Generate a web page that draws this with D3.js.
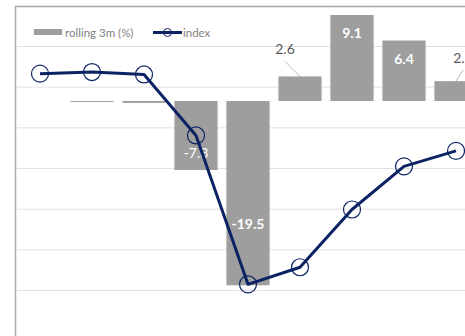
<!DOCTYPE html>
<html>
<head>
<meta charset="utf-8">
<script src="https://cdn.jsdelivr.net/npm/d3@7/dist/d3.min.js"></script>
<style>
  html, body { margin: 0; padding: 0; background: #fff; }
  svg { display: block; font-family: Lato, "Open Sans", sans-serif; }
</style>
</head>
<body>
<svg id="chart" width="465" height="336"></svg>
<script>
// Monthly periods
const categories = ["Dec", "Jan", "Feb", "Mar", "Apr", "May", "Jun", "Jul", "Aug"];
// Rolling 3-month change (%), secondary axis
const rolling3m = [null, -0.1, -0.2, -7.3, -19.5, 2.6, 9.1, 6.4, 2.1];
// Index level, primary axis
const indexValues = [106.6, 106.8, 106.5, 99.0, 80.7, 82.8, 89.9, 95.2, 97.1];
// Primary axis gridline values
const indexTicks = [80, 85, 90, 95, 100, 105, 110];

const W = 465, H = 336;
const svg = d3.select("#chart");

const barColor = "#9e9e9e";
const lineColor = "#0b2363";

const x = d3.scaleBand().domain(categories).range([14, 482]).paddingInner(0.17).paddingOuter(0.085);
const cx = d => x(d) + x.bandwidth() / 2;
const yIdx = d3.scaleLinear().domain([80, 110]).range([290, 46]);
const yBar = d3.scaleLinear().domain([-20, 10]).range([290, 6.5]);

// chart frame (left and top edges)
svg.append("path")
  .attr("d", `M15.5,${H} V6.5 H${W}`)
  .attr("fill", "none").attr("stroke", "#a9a9a9").attr("stroke-width", 1.5);

// horizontal gridlines from the primary axis
const grid = d3.axisLeft(yIdx).tickValues(indexTicks).tickSize(-(W - 16)).tickFormat("");
svg.append("g").attr("transform", "translate(16,0)").call(grid)
  .call(g => g.select(".domain").remove())
  .call(g => g.selectAll("line").attr("stroke", "#e1e1e1").attr("stroke-width", 1));

// bars
const barData = categories.map((c, i) => ({ c, v: rolling3m[i] })).filter(d => d.v !== null);
svg.append("g").selectAll("rect").data(barData).join("rect")
  .attr("x", d => x(d.c))
  .attr("width", x.bandwidth())
  .attr("y", d => yBar(Math.max(0, d.v)))
  .attr("height", d => Math.abs(yBar(d.v) - yBar(0)))
  .attr("fill", barColor);

// data labels: placement per bar
const labelStyle = {
  "Mar": { mode: "insideEnd", bold: false },
  "Apr": { mode: "raised", bold: true },
  "May": { mode: "leader", bold: false, dx: -15, dy: -22 },
  "Jun": { mode: "insideEnd", bold: true },
  "Jul": { mode: "insideEnd", bold: true },
  "Aug": { mode: "leader", bold: false, dx: 7, dy: -18 }
};
const labels = svg.append("g").attr("font-size", 14);
barData.forEach(d => {
  const s = labelStyle[d.c];
  if (!s) return;
  const bx = cx(d.c);
  const end = yBar(d.v);
  const txt = d.v.toFixed(1);
  if (s.mode === "leader") {
    const lx = bx + s.dx, ly = end + s.dy;
    labels.append("line")
      .attr("x1", bx).attr("y1", end)
      .attr("x2", lx).attr("y2", ly + 7)
      .attr("stroke", "#a6a6a6").attr("stroke-width", 0.8);
    labels.append("text").attr("x", lx).attr("y", ly)
      .attr("text-anchor", "middle").attr("fill", "#595959").text(txt);
  } else {
    let by;
    if (s.mode === "raised") by = yBar(d.v) - 56;
    else by = d.v >= 0 ? end + 23 : end - 12;
    labels.append("text").attr("x", bx).attr("y", by)
      .attr("text-anchor", "middle").attr("fill", "#fff")
      .attr("font-weight", s.bold ? "bold" : "normal").text(txt);
  }
});

// index line with hollow markers
const line = d3.line().x((d, i) => cx(categories[i])).y(d => yIdx(d));
svg.append("path").datum(indexValues)
  .attr("d", line).attr("fill", "none")
  .attr("stroke", lineColor).attr("stroke-width", 3).attr("stroke-linejoin", "round");
svg.append("g").selectAll("circle").data(indexValues).join("circle")
  .attr("cx", (d, i) => cx(categories[i])).attr("cy", d => yIdx(d))
  .attr("r", 8.5).attr("fill", "none")
  .attr("stroke", lineColor).attr("stroke-width", 1.2);

// legend
const lg = svg.append("g").attr("font-size", 11.5).attr("fill", "#7f7f7f");
lg.append("rect").attr("x", 34).attr("y", 29).attr("width", 28).attr("height", 6).attr("fill", barColor);
lg.append("text").attr("x", 65).attr("y", 36.5).text("rolling 3m (%)");
lg.append("line").attr("x1", 153).attr("x2", 182).attr("y1", 32.5).attr("y2", 32.5)
  .attr("stroke", lineColor).attr("stroke-width", 3);
lg.append("circle").attr("cx", 167.5).attr("cy", 32.5).attr("r", 4)
  .attr("fill", "none").attr("stroke", lineColor).attr("stroke-width", 1);
lg.append("text").attr("x", 183).attr("y", 36.5).text("index");
</script>
</body>
</html>
